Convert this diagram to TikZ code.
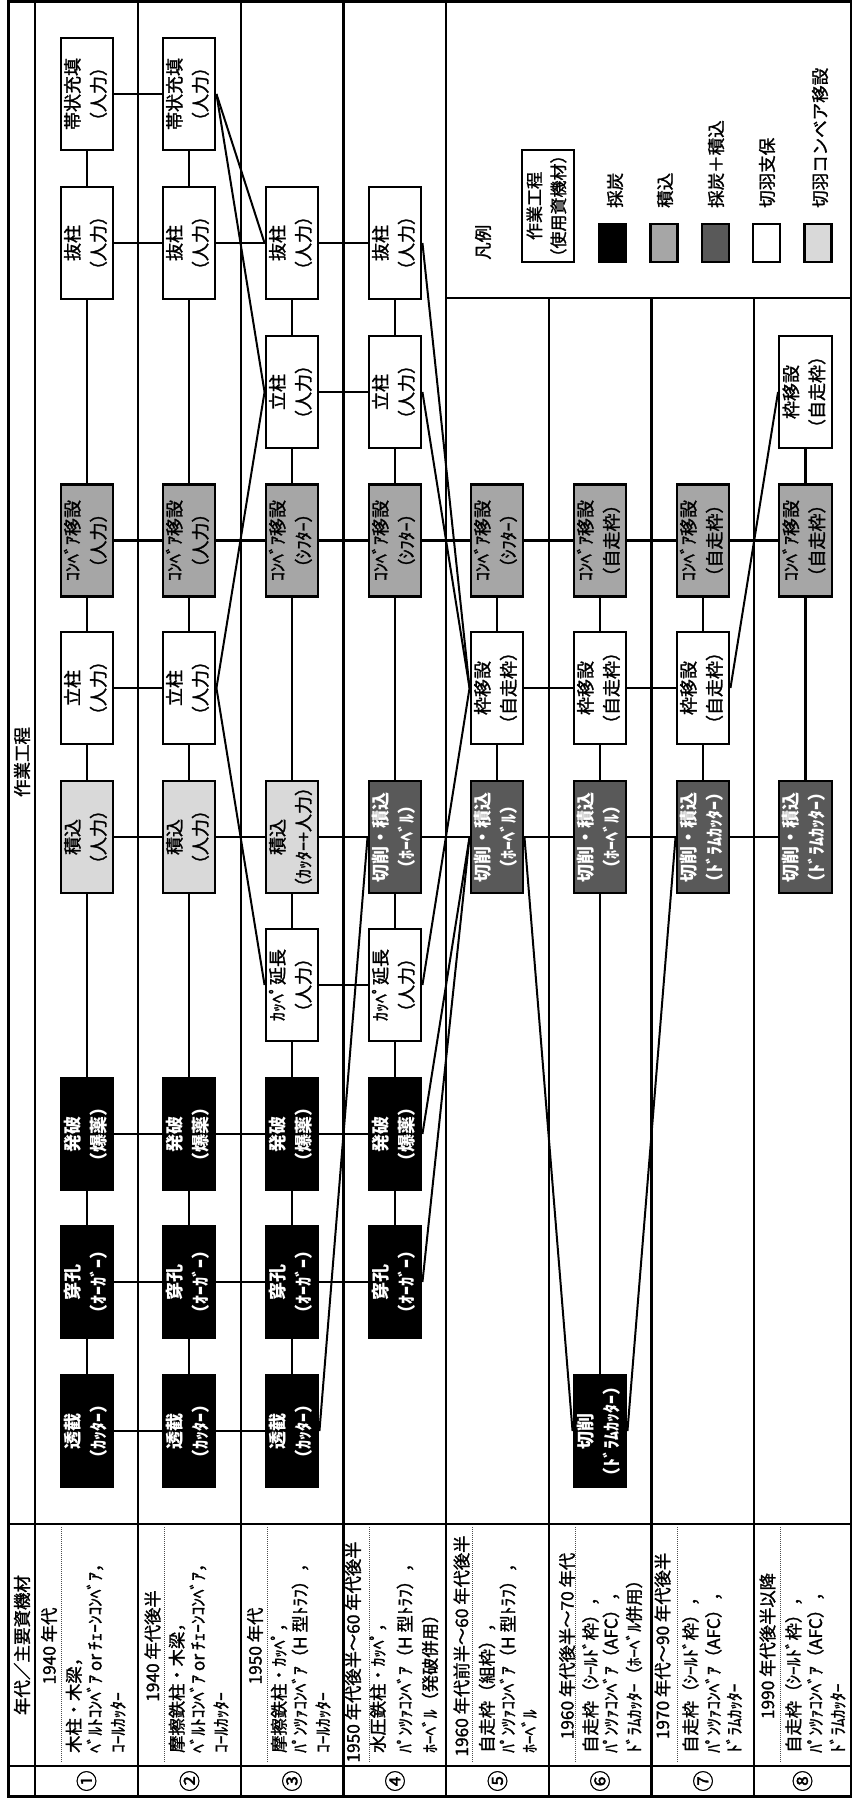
\documentclass[tikz,border=0pt]{standalone}
\usepackage{tikz}
\usepackage{graphicx}
\usepackage{fontspec}
\setmainfont{Noto Sans CJK JP}[UprightFeatures={FakeBold=1.5}]
\definecolor{cconv}{HTML}{A6A6A6}
\definecolor{cload}{HTML}{D9D9D9}
\definecolor{cdark}{HTML}{595959}
\newcommand\lp{\makebox[.5em][r]{（}}
\newcommand\rp{\makebox[.5em][l]{）}}
\newcommand\bxf{\fontsize{18pt}{26pt}\selectfont}
\newcommand\bxfb{\fontsize{18pt}{26pt}\selectfont\bfseries}
\newcommand\dsf{\fontsize{17.3pt}{20pt}\selectfont}
\newcommand\lgf{\fontsize{17.5pt}{22pt}\selectfont}
\newcommand\numf{\fontsize{21pt}{24pt}\selectfont}
\newcommand\lgbf{\fontsize{17pt}{24pt}\selectfont}
\newcommand\two[2]{\rotatebox{90}{\begin{tabular}{@{}c@{}}#1\\#2\end{tabular}}}
\pgfdeclarelayer{bg}
\pgfsetlayers{bg,main}
\begin{document}
\begin{tikzpicture}[x=1pt,y=-1pt,
  tline/.style={line width=2.5pt},
  bx/.style={draw=black,line width=2.4pt,minimum width=52.5pt,minimum height=112pt,inner sep=0pt,font=\bxf},
  wb/.style={bx,fill=white},
  cv/.style={bx,fill=cconv},
  ld/.style={bx,fill=cload},
  dk/.style={bx,fill=cdark,text=white,font=\bxfb},
  bk/.style={bx,fill=black,text=white,font=\bxfb},
  vc/.style={line width=2.8pt},
  hc/.style={line width=2.2pt},
  dc/.style={line width=2pt},
  rtxt/.style={rotate=90,inner sep=0pt},
  dsc/.style={rtxt,anchor=west,font=\dsf},
  ttl/.style={rtxt,anchor=center,font=\dsf},
  lgt/.style={rtxt,anchor=west,font=\lgf},
  sw/.style={draw=black,line width=2.2pt,minimum width=27pt,minimum height=38pt,inner sep=0pt},
  dotl/.style={line width=1pt,dash pattern=on 1pt off 1pt,black!70},
]
\useasboundingbox (0,0) rectangle (852,1801);

% ---------- process boxes ----------
% column 1
\node[wb] (c1r0) at (87,94) {\two{帯状充填}{\lp 人力\rp}};
\node[wb] (c1r1) at (87,243) {\two{抜柱}{\lp 人力\rp}};
\node[cv] (c1r3) at (87,540.5) {\two{ｺﾝﾍﾞｱ移設}{\lp 人力\rp}};
\node[wb] (c1r4) at (87,688) {\two{立柱}{\lp 人力\rp}};
\node[ld] (c1r5) at (87,837) {\two{積込}{\lp 人力\rp}};
\node[bk] (c1r7) at (87,1134) {\two{発破}{\lp 爆薬\rp}};
\node[bk] (c1r8) at (87,1282) {\two{穿孔}{\lp ｵｰｶﾞｰ\rp}};
\node[bk] (c1r9) at (87,1431) {\two{透截}{\lp ｶｯﾀｰ\rp}};
% column 2
\node[wb] (c2r0) at (189,94) {\two{帯状充填}{\lp 人力\rp}};
\node[wb] (c2r1) at (189,243) {\two{抜柱}{\lp 人力\rp}};
\node[cv] (c2r3) at (189,540.5) {\two{ｺﾝﾍﾞｱ移設}{\lp 人力\rp}};
\node[wb] (c2r4) at (189,688) {\two{立柱}{\lp 人力\rp}};
\node[ld] (c2r5) at (189,837) {\two{積込}{\lp 人力\rp}};
\node[bk] (c2r7) at (189,1134) {\two{発破}{\lp 爆薬\rp}};
\node[bk] (c2r8) at (189,1282) {\two{穿孔}{\lp ｵｰｶﾞｰ\rp}};
\node[bk] (c2r9) at (189,1431) {\two{透截}{\lp ｶｯﾀｰ\rp}};
% column 3
\node[wb] (c3r1) at (292,243) {\two{抜柱}{\lp 人力\rp}};
\node[wb] (c3r2) at (292,392) {\two{立柱}{\lp 人力\rp}};
\node[cv] (c3r3) at (292,540.5) {\two{ｺﾝﾍﾞｱ移設}{\lp ｼﾌﾀｰ\rp}};
\node[ld] (c3r5) at (292,837) {\two{積込}{\lp ｶｯﾀｰ+人力\rp}};
\node[wb] (c3r6) at (292,985) {\two{ｶｯﾍﾟ延長}{\lp 人力\rp}};
\node[bk] (c3r7) at (292,1134) {\two{発破}{\lp 爆薬\rp}};
\node[bk] (c3r8) at (292,1282) {\two{穿孔}{\lp ｵｰｶﾞｰ\rp}};
\node[bk] (c3r9) at (292,1431) {\two{透截}{\lp ｶｯﾀｰ\rp}};
% column 4
\node[wb] (c4r1) at (395,243) {\two{抜柱}{\lp 人力\rp}};
\node[wb] (c4r2) at (395,392) {\two{立柱}{\lp 人力\rp}};
\node[cv] (c4r3) at (395,540.5) {\two{ｺﾝﾍﾞｱ移設}{\lp ｼﾌﾀｰ\rp}};
\node[dk] (c4r5) at (395,837) {\two{切削・積込}{\lp ﾎｰﾍﾞﾙ\rp}};
\node[wb] (c4r6) at (395,985) {\two{ｶｯﾍﾟ延長}{\lp 人力\rp}};
\node[bk] (c4r7) at (395,1134) {\two{発破}{\lp 爆薬\rp}};
\node[bk] (c4r8) at (395,1282) {\two{穿孔}{\lp ｵｰｶﾞｰ\rp}};
% column 5
\node[cv] (c5r3) at (497,540.5) {\two{ｺﾝﾍﾞｱ移設}{\lp ｼﾌﾀｰ\rp}};
\node[wb] (c5r4) at (497,688) {\two{枠移設}{\lp 自走枠\rp}};
\node[dk] (c5r5) at (497,837) {\two{切削・積込}{\lp ﾎｰﾍﾞﾙ\rp}};
% column 6
\node[cv] (c6r3) at (600,540.5) {\two{ｺﾝﾍﾞｱ移設}{\lp 自走枠\rp}};
\node[wb] (c6r4) at (600,688) {\two{枠移設}{\lp 自走枠\rp}};
\node[dk] (c6r5) at (600,837) {\two{切削・積込}{\lp ﾎｰﾍﾞﾙ\rp}};
\node[bk] (c6r9) at (600,1431) {\two{切削}{\lp ﾄﾞﾗﾑｶｯﾀｰ\rp}};
% column 7
\node[cv] (c7r3) at (703,540.5) {\two{ｺﾝﾍﾞｱ移設}{\lp 自走枠\rp}};
\node[wb] (c7r4) at (703,688) {\two{枠移設}{\lp 自走枠\rp}};
\node[dk] (c7r5) at (703,837) {\two{切削・積込}{\lp ﾄﾞﾗﾑｶｯﾀｰ\rp}};
% column 8
\node[wb] (c8r2) at (805.5,392) {\two{枠移設}{\lp 自走枠\rp}};
\node[cv] (c8r3) at (805.5,540.5) {\two{ｺﾝﾍﾞｱ移設}{\lp 自走枠\rp}};
\node[dk] (c8r5) at (805.5,837) {\two{切削・積込}{\lp ﾄﾞﾗﾑｶｯﾀｰ\rp}};

% ---------- header texts ----------
\node[rtxt,font=\lgf] (h1) at (22,762) {作業工程};
\node[rtxt,font=\lgf] (h2) at (22,1645) {年代／主要資機材};
\node[rtxt,font=\numf] (n1) at (86.5,1781) {①};
\node[rtxt,font=\numf] (n2) at (189.5,1781) {②};
\node[rtxt,font=\numf] (n3) at (292,1781) {③};
\node[rtxt,font=\numf] (n4) at (395,1781) {④};
\node[rtxt,font=\numf] (n5) at (497.5,1781) {⑤};
\node[rtxt,font=\numf] (n6) at (600,1781) {⑥};
\node[rtxt,font=\numf] (n7) at (703,1781) {⑦};
\node[rtxt,font=\numf] (n8) at (802.5,1781) {⑧};

% ---------- era descriptions ----------
\node[ttl] (d1t) at (49,1646) {1940 年代};
\node[dsc] (d1a) at (74,1753) {木柱・木梁，};
\node[dsc] (d1b) at (95,1753) {ﾍﾞﾙﾄｺﾝﾍﾞｱ or ﾁｪｰﾝｺﾝﾍﾞｱ，};
\node[dsc] (d1c) at (118,1753) {ｺｰﾙｶｯﾀｰ};

\node[ttl] (d2t) at (152.5,1646) {1940 年代後半};
\node[dsc] (d2a) at (177,1753) {摩擦鉄柱・木梁，};
\node[dsc] (d2b) at (198,1753) {ﾍﾞﾙﾄｺﾝﾍﾞｱ or ﾁｪｰﾝｺﾝﾍﾞｱ，};
\node[dsc] (d2c) at (221,1753) {ｺｰﾙｶｯﾀｰ};

\node[ttl] (d3t) at (255,1646) {1950 年代};
\node[dsc] (d3a) at (279,1753) {摩擦鉄柱・ｶｯﾍﾟ，};
\node[dsc] (d3b) at (300,1753) {ﾊﾟﾝﾂｧｺﾝﾍﾞｱ（H 型ﾄﾗﾌ），};
\node[dsc] (d3c) at (323,1753) {ｺｰﾙｶｯﾀｰ};

\node[ttl] (d4t) at (353,1652) {1950 年代後半～60 年代後半};
\node[dsc] (d4a) at (378,1753) {水圧鉄柱・ｶｯﾍﾟ，};
\node[dsc] (d4b) at (405,1753) {ﾊﾟﾝﾂｧｺﾝﾍﾞｱ（H 型ﾄﾗﾌ），};
\node[dsc] (d4c) at (430,1753) {ﾎｰﾍﾞﾙ（発破併用）};

\node[ttl] (d5t) at (461.5,1646) {1960 年代前半～60 年代後半};
\node[dsc] (d5a) at (487,1753) {自走枠（組枠），};
\node[dsc] (d5b) at (508,1753) {ﾊﾟﾝﾂｧｺﾝﾍﾞｱ（H 型ﾄﾗﾌ），};
\node[dsc] (d5c) at (529,1753) {ﾎｰﾍﾞﾙ};

\node[ttl] (d6t) at (567,1646) {1960 年代後半～70 年代};
\node[dsc] (d6a) at (590.5,1753) {自走枠（ｼｰﾙﾄﾞ枠），};
\node[dsc] (d6b) at (611,1753) {ﾊﾟﾝﾂｧｺﾝﾍﾞｱ（AFC），};
\node[dsc] (d6c) at (634,1753) {ﾄﾞﾗﾑｶｯﾀｰ（ﾎｰﾍﾞﾙ併用）};

\node[ttl] (d7t) at (662.5,1646) {1970 年代～90 年代後半};
\node[dsc] (d7a) at (690.5,1753) {自走枠（ｼｰﾙﾄﾞ枠），};
\node[dsc] (d7b) at (713.5,1753) {ﾊﾟﾝﾂｧｺﾝﾍﾞｱ（AFC），};
\node[dsc] (d7c) at (734,1753) {ﾄﾞﾗﾑｶｯﾀｰ};

\node[ttl] (d8t) at (767.5,1646) {1990 年代後半以降};
\node[dsc] (d8a) at (793.5,1753) {自走枠（ｼｰﾙﾄﾞ枠），};
\node[dsc] (d8b) at (815.5,1753) {ﾊﾟﾝﾂｧｺﾝﾍﾞｱ（AFC），};
\node[dsc] (d8c) at (837.5,1753) {ﾄﾞﾗﾑｶｯﾀｰ};

% ---------- legend ----------
\node[rtxt,anchor=west,font=\lgf] (lgh) at (483,260) {凡例};
\node[draw=black,line width=2.4pt,minimum width=52pt,minimum height=112pt,inner sep=0pt,font=\lgbf] (lgb) at (548,206)
  {\rotatebox{90}{\begin{tabular}{@{}c@{}}作業工程\\\lp 使用資機材\rp\end{tabular}}};
\node[sw,fill=black] (sw1) at (612.5,243) {};
\node[sw,fill=cconv] (sw2) at (664,243) {};
\node[sw,fill=cdark] (sw3) at (715.5,243) {};
\node[sw,fill=white] (sw4) at (766.5,243) {};
\node[sw,fill=cload] (sw5) at (818,243) {};
\node[lgt] (lt1) at (615,208) {採炭};
\node[lgt] (lt2) at (665,208) {積込};
\node[lgt] (lt3) at (716,208) {採炭＋積込};
\node[lgt] (lt4) at (767,208) {切羽支保};
\node[lgt] (lt5) at (820,208) {切羽コンベア移設};

% ---------- background: table and connectors ----------
\begin{pgfonlayer}{bg}
  % table frame
  \draw[tline] (8.7,1.3) rectangle (850.8,1796.7);
  \draw[tline] (35,1.3) -- (35,1796.7)
               (138,1.3) -- (138,1796.7)
               (241,1.3) -- (241,1796.7)
               (343.5,1.3) -- (343.5,1796.7)
               (446,1.3) -- (446,1796.7)
               (549,298) -- (549,1796.7)
               (651.5,298) -- (651.5,1796.7)
               (754,298) -- (754,1796.7);
  \draw[tline] (446,298) -- (850.8,298)
               (8.7,1524) -- (850.8,1524)
               (8.7,1766) -- (850.8,1766);
  % dotted separators under era titles
  \foreach \dx in {61,164,267,369.5,472,575,677.5,780}{
    \draw[dotl] (\dx,1527) -- (\dx,1763);
  }
  % vertical connectors
  \draw[vc] (c1r0) -- (c1r1) (c1r1) -- (c1r3) (c1r3) -- (c1r4) (c1r4) -- (c1r5)
            (c1r5) -- (c1r7) (c1r7) -- (c1r8) (c1r8) -- (c1r9);
  \draw[vc] (c2r0) -- (c2r1) (c2r1) -- (c2r3) (c2r3) -- (c2r4) (c2r4) -- (c2r5)
            (c2r5) -- (c2r7) (c2r7) -- (c2r8) (c2r8) -- (c2r9);
  \draw[vc] (c3r1) -- (c3r2) (c3r2) -- (c3r3) (c3r3) -- (c3r5) (c3r5) -- (c3r6)
            (c3r6) -- (c3r7) (c3r7) -- (c3r8) (c3r8) -- (c3r9);
  \draw[vc] (c4r1) -- (c4r2) (c4r2) -- (c4r3) (c4r3) -- (c4r5) (c4r5) -- (c4r6)
            (c4r6) -- (c4r7) (c4r7) -- (c4r8);
  \draw[vc] (c5r3) -- (c5r4) (c5r4) -- (c5r5);
  \draw[vc] (c6r3) -- (c6r4) (c6r4) -- (c6r5) (c6r5) -- (c6r9);
  \draw[vc] (c7r3) -- (c7r4) (c7r4) -- (c7r5);
  \draw[vc] (c8r2) -- (c8r3) (c8r3) -- (c8r5);
  % horizontal connectors
  \draw[hc] (c1r0) -- (c2r0);
  \draw[hc] (c1r1) -- (c2r1) (c2r1) -- (c3r1) (c3r1) -- (c4r1);
  \draw[hc] (c3r2) -- (c4r2);
  \draw[hc] (c1r3) -- (c2r3) (c2r3) -- (c3r3) (c3r3) -- (c4r3) (c4r3) -- (c5r3)
            (c5r3) -- (c6r3) (c6r3) -- (c7r3) (c7r3) -- (c8r3);
  \draw[hc] (c1r4) -- (c2r4) (c5r4) -- (c6r4) (c6r4) -- (c7r4);
  \draw[hc] (c1r5) -- (c2r5) (c2r5) -- (c3r5) (c3r5) -- (c4r5) (c4r5) -- (c5r5)
            (c5r5) -- (c6r5) (c6r5) -- (c7r5) (c7r5) -- (c8r5);
  \draw[hc] (c3r6) -- (c4r6);
  \draw[hc] (c1r7) -- (c2r7) (c2r7) -- (c3r7) (c3r7) -- (c4r7);
  \draw[hc] (c1r8) -- (c2r8) (c2r8) -- (c3r8) (c3r8) -- (c4r8);
  \draw[hc] (c1r9) -- (c2r9) (c2r9) -- (c3r9);
  % diagonal connectors
  \draw[dc] (c2r0.east) -- (c3r1.west);
  \draw[dc] (c2r0.east) -- (c3r2.west);
  \draw[dc] (c2r4.east) -- (c3r2.west);
  \draw[dc] (c2r4.east) -- (c3r6.west);
  \draw[dc] (c4r1.east) -- (c5r4.west);
  \draw[dc] (c4r2.east) -- (c5r4.west);
  \draw[dc] (c4r6.east) -- (c5r4.west);
  \draw[dc] (c3r9.east) -- (c4r5.west);
  \draw[dc] (c4r7.east) -- (c5r5.west);
  \draw[dc] (c4r8.east) -- (c5r5.west);
  \draw[dc] (c5r5.east) -- (c6r9.west);
  \draw[dc] (c6r9.east) -- (c7r5.west);
  \draw[dc] (c7r4.east) -- (c8r2.west);
\end{pgfonlayer}
\end{tikzpicture}
\end{document}
